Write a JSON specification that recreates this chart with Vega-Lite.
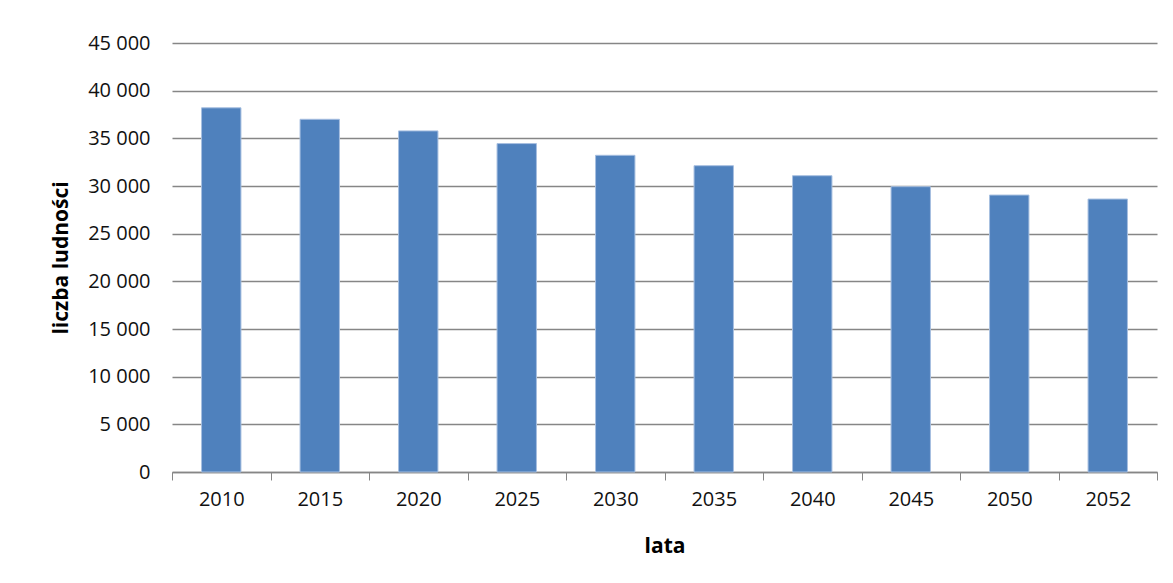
{
  "$schema": "https://vega.github.io/schema/vega-lite/v6.json",
  "width": 985,
  "height": 429,
  "autosize": "none",
  "padding": {"left": 172, "top": 43, "right": 16, "bottom": 111},
  "background": "white",
  "config": {
    "locale": {"number": {"decimal": ",", "thousands": " ", "grouping": [3], "currency": ["", " zł"]}},
    "view": {"stroke": null},
    "font": "Open Sans"
  },
  "data": {
    "values": [
      {"rok": "2010", "ludnosc": 38200},
      {"rok": "2015", "ludnosc": 37000},
      {"rok": "2020", "ludnosc": 35780},
      {"rok": "2025", "ludnosc": 34450},
      {"rok": "2030", "ludnosc": 33220},
      {"rok": "2035", "ludnosc": 32130},
      {"rok": "2040", "ludnosc": 31080},
      {"rok": "2045", "ludnosc": 29930},
      {"rok": "2050", "ludnosc": 29050},
      {"rok": "2052", "ludnosc": 28630}
    ]
  },
  "mark": {"type": "bar", "width": {"band": 0.4}, "color": "#4F81BD", "stroke": "#a7bfe0", "strokeWidth": 1},
  "encoding": {
    "x": {
      "field": "rok", "type": "ordinal",
      "scale": {"paddingInner": 0, "paddingOuter": 0},
      "axis": {
        "title": "lata", "titleFont": "Open Sans", "titleFontSize": 21, "titleFontWeight": "bold", "titleColor": "#000000", "titlePadding": 26,
        "labelAngle": 0, "labelFont": "Open Sans", "labelFontSize": 20, "labelColor": "#111111", "labelPadding": 9,
        "tickBand": "extent", "tickSize": 8, "tickColor": "#868686", "tickWidth": 1,
        "domainColor": "#868686", "domainWidth": 1.5, "grid": false
      }
    },
    "y": {
      "field": "ludnosc", "type": "quantitative",
      "scale": {"domain": [0, 45000], "nice": false},
      "axis": {
        "title": "liczba ludności", "titleFont": "Open Sans", "titleFontSize": 21, "titleFontWeight": "bold", "titleColor": "#000000", "titlePadding": 16,
        "values": [0, 5000, 10000, 15000, 20000, 25000, 30000, 35000, 40000, 45000],
        "format": ",d",
        "labelFont": "Open Sans", "labelFontSize": 20, "labelColor": "#111111", "labelPadding": 22,
        "ticks": false, "domain": false,
        "grid": true, "gridColor": "#868686", "gridWidth": 1.3
      }
    }
  }
}
